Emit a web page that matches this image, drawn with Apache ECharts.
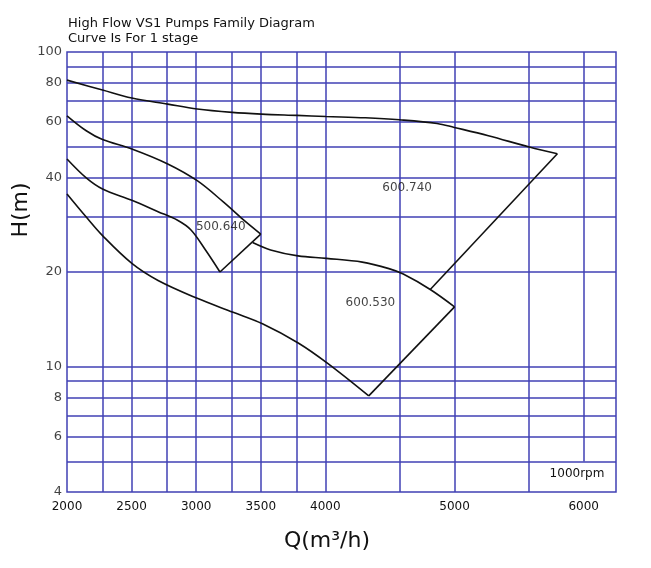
<!DOCTYPE html>
<html><head><meta charset="utf-8">
<script src="https://cdn.jsdelivr.net/npm/echarts@6/dist/echarts.min.js"></script>
<style>html,body{margin:0;padding:0;background:#fff}#c{width:651px;height:568px}</style>
</head><body><div id="c"></div>
<script>
// Axis ticks / labels
const qTicks = [2000, 2500, 3000, 3500, 4000, 5000, 6000];
const hTicks = [100, 80, 60, 40, 20, 10, 8, 6, 4];
// Grid lines
const qGrid = [2275, 2500, 2775, 3000, 3275, 3500, 3775, 4000, 4575, 5000, 5575];
const hGrid = [5, 6, 7, 8, 9, 10, 20, 30, 40, 50, 60, 70, 80, 90];
const qPartialLine = 6000;
const hPartialFrom = 5;

// 600.740 upper curve and closing edge
const c740Q = [2000, 2275, 2502, 2780, 3008, 3278, 3505, 3780, 4005, 4310, 4574, 4865, 4998, 5262, 5579, 5796];
const c740H = [81.4, 75.7, 71.4, 68.3, 65.9, 64.3, 63.5, 62.9, 62.4, 61.8, 60.9, 59.3, 57.6, 54.2, 49.9, 47.5];
const e740Q = [5796, 4812];
const e740H = [47.5, 17.6];

// 500.640 upper / lower curves and closing edge
const c640UpQ = [2000, 2149, 2275, 2502, 2780, 3008, 3210, 3362, 3500];
const c640UpH = [62.7, 56.2, 52.7, 49.2, 44.1, 39.0, 33.4, 29.4, 26.4];
const c640LoQ = [2000, 2149, 2275, 2502, 2705, 2856, 2960, 3075, 3184];
const c640LoH = [45.7, 39.8, 36.7, 33.8, 31.1, 29.2, 27.2, 23.4, 20.0];
const e640Q = [3500, 3184];
const e640H = [26.4, 20.0];

// 600.530 upper / lower curves and closing edge
const c530UpQ = [3437, 3576, 3788, 4008, 4286, 4492, 4603, 4812, 5000];
const c530UpH = [24.8, 23.5, 22.5, 22.1, 21.5, 20.5, 19.7, 17.6, 15.5];
const c530LoQ = [2000, 2149, 2275, 2502, 2705, 3008, 3286, 3513, 3790, 4018, 4336];
const c530LoH = [35.4, 29.9, 26.1, 21.3, 18.8, 16.5, 14.9, 13.7, 11.9, 10.25, 8.08];
const e530Q = [5000, 4336];
const e530H = [15.5, 8.08];

// Model labels
const modelNames = ['600.740', '500.640', '600.530'];
const modelQ = [4633, 3190, 4349];
const modelH = [37.0, 27.8, 15.9];

const BLUE = '#4040b4';
const INK = '#111111';
const FONT = 'DejaVu Sans';

const zip = (a, b) => a.map((v, i) => [v, b[i]]);
const curve = (q, h, smooth) => ({
  type: 'line', data: zip(q, h), smooth: smooth ? 0.35 : false, showSymbol: false, symbol: 'none',
  lineStyle: { color: INK, width: 1.6 }, silent: true, clip: false, z: 5
});

const chart = echarts.init(document.getElementById('c'), null, { renderer: 'canvas' });
chart.setOption({
  animation: false,
  backgroundColor: '#fff',
  title: {
    text: 'High Flow VS1 Pumps Family Diagram\nCurve Is For 1 stage',
    left: 68, top: 16, padding: 0,
    textStyle: { fontFamily: FONT, fontSize: 13, fontWeight: 'normal', color: INK, lineHeight: 15 }
  },
  grid: { left: 67, top: 52, width: 549, height: 440, show: true, borderColor: BLUE, borderWidth: 1.5, backgroundColor: 'transparent' },
  xAxis: {
    type: 'value', min: 2000, max: 6250,
    axisLine: { show: false }, axisTick: { show: false }, splitLine: { show: false },
    axisLabel: { customValues: qTicks, formatter: v => String(v), fontFamily: FONT, fontSize: 12, color: INK, margin: 9 }
  },
  yAxis: {
    type: 'log', logBase: 10, min: 4, max: 100,
    axisLine: { show: false }, axisTick: { show: false }, splitLine: { show: false },
    axisLabel: { show: false }
  },
  graphic: [
    { type: 'text', x: 21, y: 210, rotation: Math.PI / 2,
      style: { text: 'H(m)', font: '22px "DejaVu Sans"', fill: INK, align: 'center', verticalAlign: 'middle' } },
    { type: 'text', x: 327, y: 541,
      style: { text: 'Q(m³/h)', font: '22px "DejaVu Sans"', fill: INK, align: 'center', verticalAlign: 'middle' } },
    { type: 'text', x: 577, y: 474,
      style: { text: '1000rpm', font: '12px "DejaVu Sans"', fill: INK, align: 'center', verticalAlign: 'middle' } }
  ],
  series: [
    {
      type: 'scatter', data: hTicks.map(h => [2000, h]), symbolSize: 0, clip: false, silent: true,
      label: { show: true, position: 'left', distance: 5, formatter: p => String(p.value[1]),
        fontFamily: FONT, fontSize: 13, color: INK },
      markLine: {
        silent: true, symbol: 'none', animation: false,
        label: { show: false },
        lineStyle: { color: BLUE, width: 1.5, type: 'solid' },
        data: [
          ...qGrid.map(v => ({ xAxis: v })),
          ...hGrid.map(v => ({ yAxis: v })),
          [{ coord: [qPartialLine, hPartialFrom] }, { coord: [qPartialLine, 100] }]
        ]
      },
      z: 3
    },
    curve(c740Q, c740H, true),
    curve(e740Q, e740H, false),
    curve(c640UpQ, c640UpH, true),
    curve(c640LoQ, c640LoH, true),
    curve(e640Q, e640H, false),
    curve(c530UpQ, c530UpH, true),
    curve(c530LoQ, c530LoH, true),
    curve(e530Q, e530H, false),
    {
      type: 'scatter', data: modelNames.map((n, i) => ({ name: n, value: [modelQ[i], modelH[i]] })),
      symbolSize: 0, clip: false, silent: true,
      label: { show: true, position: 'inside', formatter: p => p.name, fontFamily: FONT, fontSize: 12, color: INK },
      z: 6
    }
  ]
});
</script>
</body></html>
